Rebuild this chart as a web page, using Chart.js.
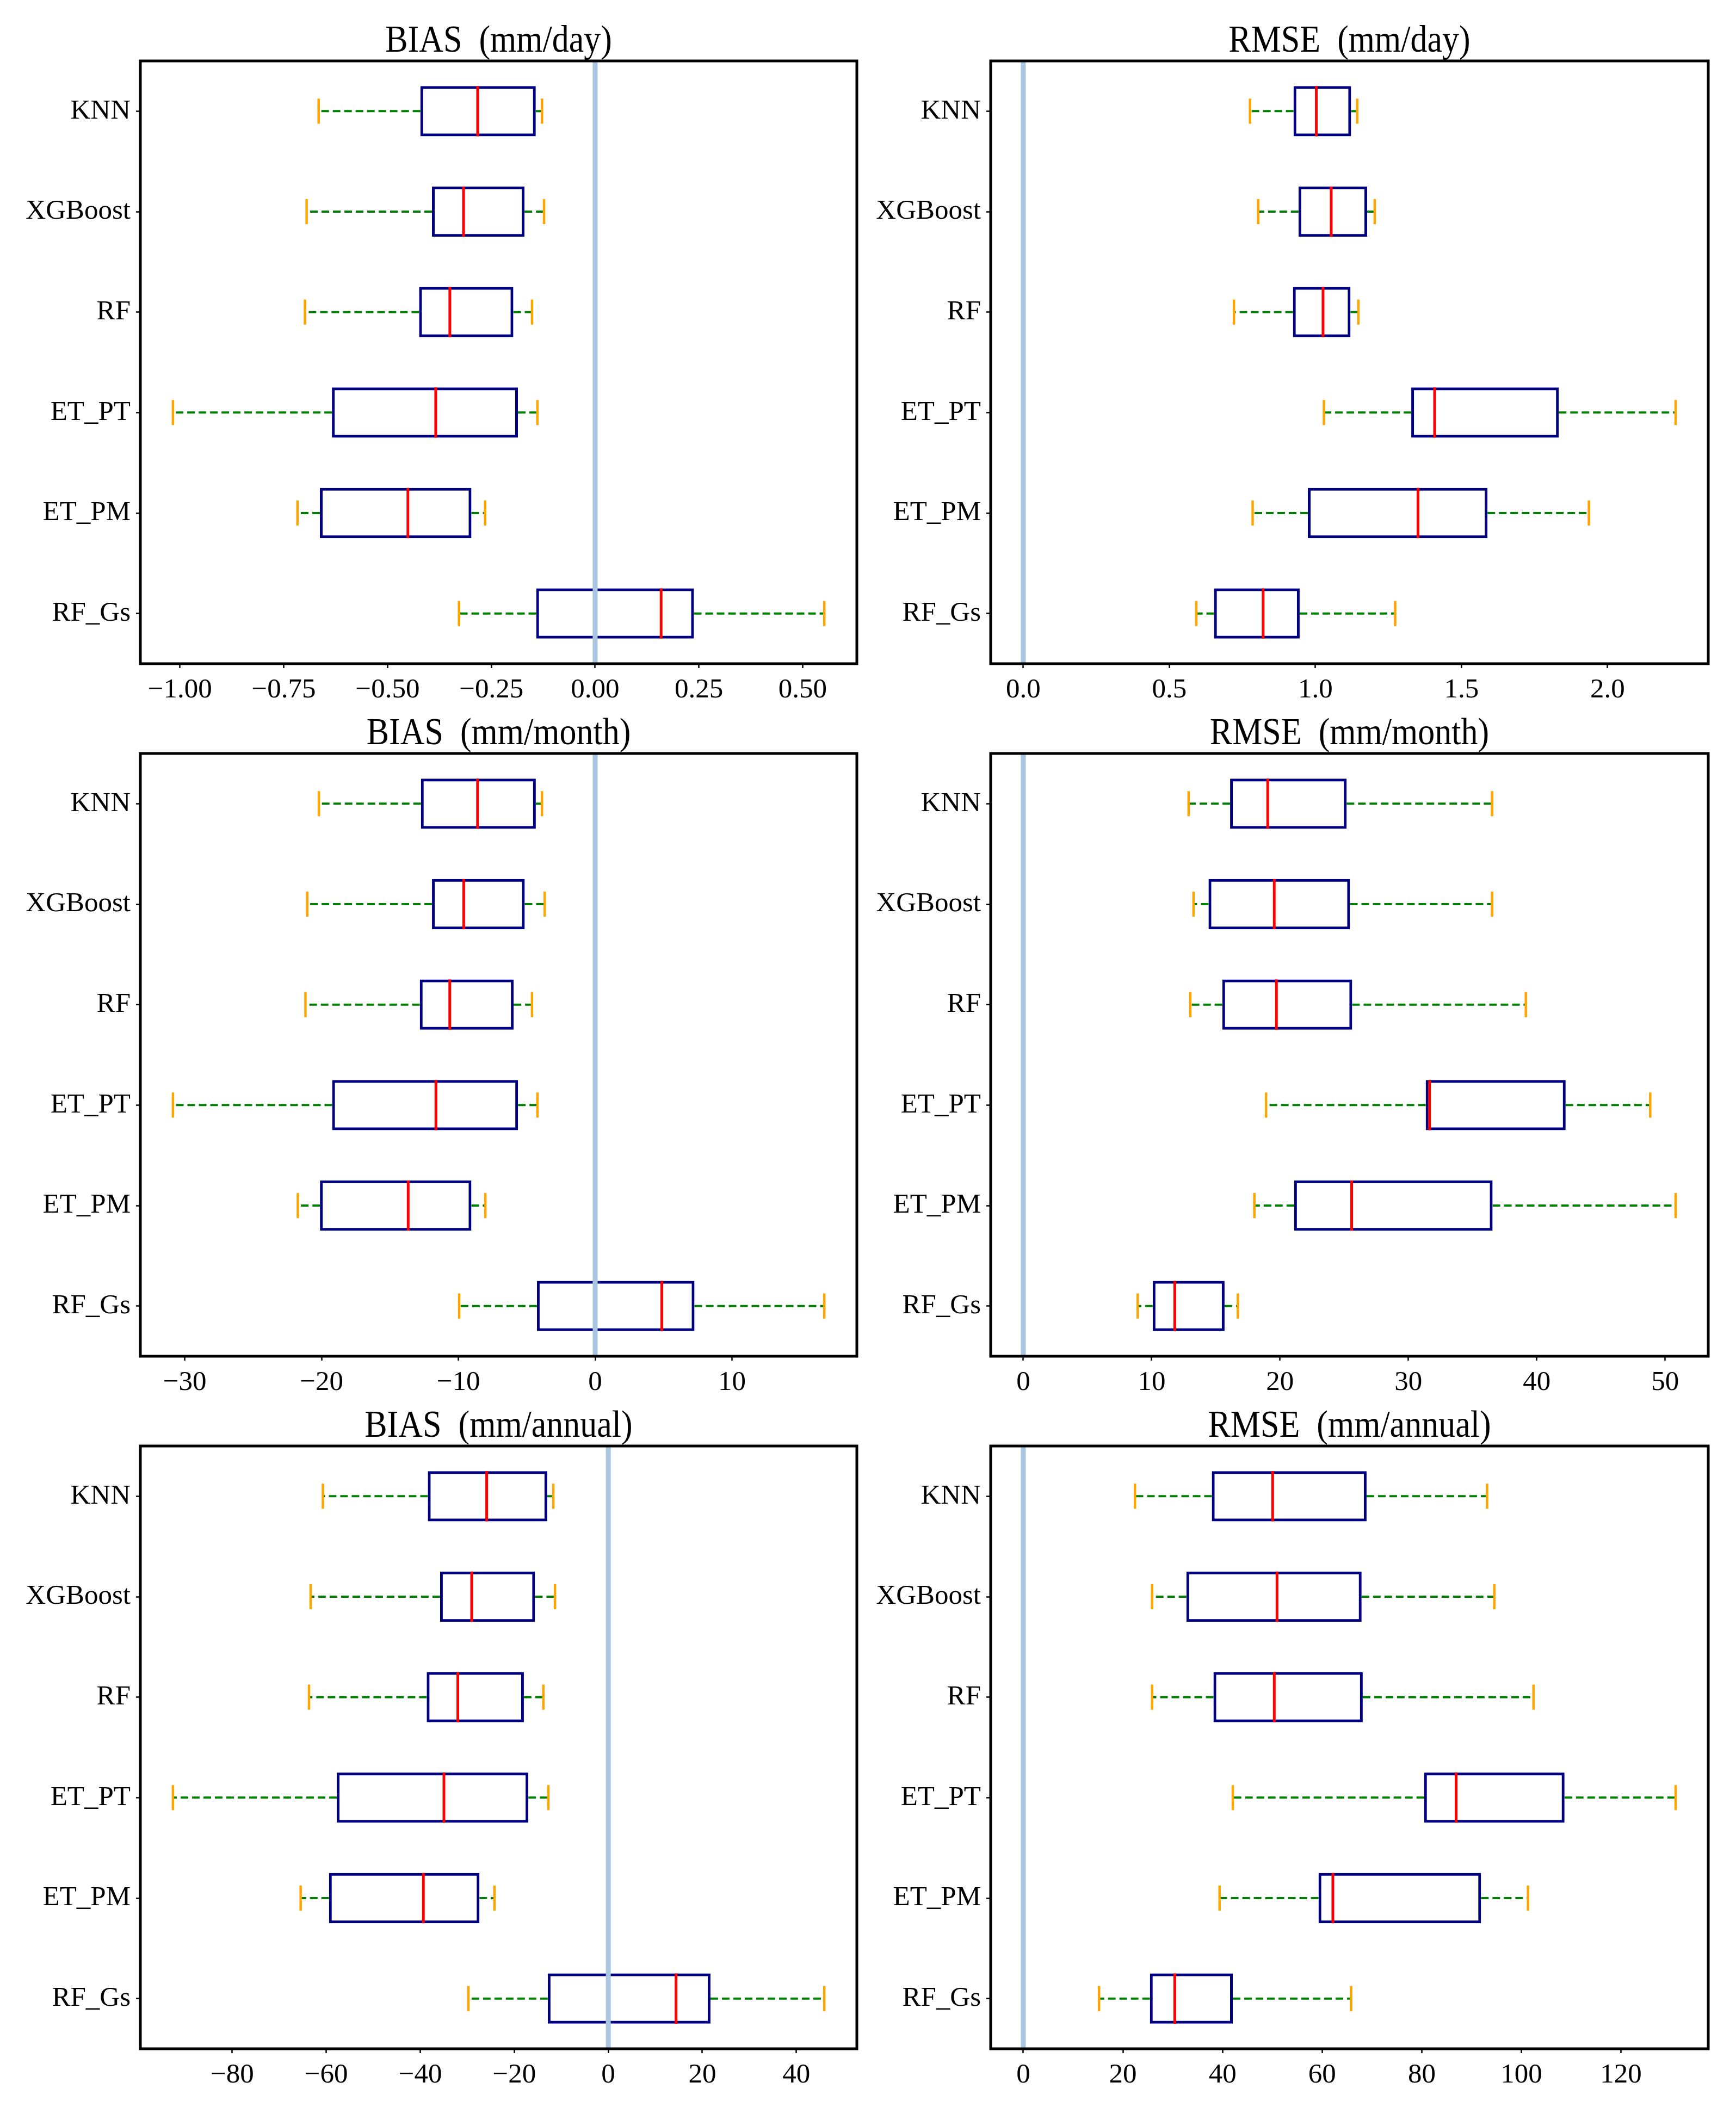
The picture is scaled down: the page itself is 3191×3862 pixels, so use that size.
<!DOCTYPE html>
<html lang="en">
<head>
<meta charset="UTF-8">
<title>BIAS and RMSE box plots</title>
<script src="https://cdn.jsdelivr.net/npm/chart.js"></script>
<style>
  html, body { margin: 0; padding: 0; background: #fff; }
  #wrap { position: relative; width: 3191px; height: 3862px; overflow: hidden; background: #fff; }
  canvas { position: absolute; }
</style>
</head>
<body>
<div id="wrap">
  <canvas id="c1" width="1600" height="1316" style="left:0px;top:0px"></canvas>
  <canvas id="c2" width="1628" height="1316" style="left:1563px;top:0px"></canvas>
  <canvas id="c3" width="1600" height="1316" style="left:0px;top:1273px"></canvas>
  <canvas id="c4" width="1628" height="1316" style="left:1563px;top:1273px"></canvas>
  <canvas id="c5" width="1600" height="1316" style="left:0px;top:2546px"></canvas>
  <canvas id="c6" width="1628" height="1316" style="left:1563px;top:2546px"></canvas>
</div>

<script>
const categories = ['KNN', 'XGBoost', 'RF', 'ET_PT', 'ET_PM', 'RF_Gs'];

// BIAS (mm/day)
const biasDayLow  = [-0.666, -0.695, -0.699, -1.017, -0.717, -0.328];
const biasDayQ1   = [-0.421, -0.393, -0.424, -0.634, -0.663, -0.142];
const biasDayMed  = [-0.283, -0.317, -0.350, -0.384, -0.451,  0.159];
const biasDayQ3   = [-0.143, -0.170, -0.197, -0.186, -0.298,  0.238];
const biasDayHigh = [-0.128, -0.123, -0.152, -0.139, -0.265,  0.552];
const biasDayTicks = [-1, -0.75, -0.5, -0.25, 0, 0.25, 0.5];

// RMSE (mm/day)
const rmseDayLow  = [0.776, 0.804, 0.721, 1.029, 0.785, 0.592];
const rmseDayQ1   = [0.925, 0.942, 0.923, 1.328, 0.974, 0.653];
const rmseDayMed  = [1.003, 1.054, 1.026, 1.408, 1.351, 0.821];
const rmseDayQ3   = [1.122, 1.177, 1.120, 1.833, 1.589, 0.946];
const rmseDayHigh = [1.143, 1.203, 1.147, 2.233, 1.936, 1.273];
const rmseDayTicks = [0, 0.5, 1, 1.5, 2];

// BIAS (mm/month)
const biasMonLow  = [-20.20, -21.05, -21.18, -30.87, -21.74, -9.94];
const biasMonQ1   = [-12.74, -11.93, -12.82, -19.23, -20.12, -4.26];
const biasMonMed  = [-8.60, -9.61, -10.63, -11.64, -13.67, 4.87];
const biasMonQ3   = [-4.34, -5.15, -5.96, -5.64, -9.05, 7.26];
const biasMonHigh = [-3.89, -3.69, -4.62, -4.22, -8.03, 16.75];
const biasMonTicks = [-30, -20, -10, 0, 10];

// RMSE (mm/month)
const rmseMonLow  = [12.88, 13.26, 13.01, 18.91, 18.00, 8.91];
const rmseMonQ1   = [16.11, 14.43, 15.50, 31.35, 21.10, 10.08];
const rmseMonMed  = [19.04, 19.55, 19.72, 31.65, 25.58, 11.80];
const rmseMonQ3   = [25.19, 25.45, 25.62, 42.25, 36.56, 15.68];
const rmseMonHigh = [36.52, 36.52, 39.15, 48.84, 50.82, 16.71];
const rmseMonTicks = [0, 10, 20, 30, 40, 50];

// BIAS (mm/annual)
const biasYrLow  = [-60.72, -63.32, -63.67, -92.62, -65.45, -29.77];
const biasYrQ1   = [-38.39, -35.79, -38.63, -57.77, -59.42, -12.88];
const biasYrMed  = [-25.87, -29.06, -32.01, -34.97, -39.34, 14.41];
const biasYrQ3   = [-12.99, -15.59, -17.96, -17.01, -27.41, 21.74];
const biasYrHigh = [-11.70, -11.34, -13.82, -12.76, -24.22, 45.95];
const biasYrTicks = [-80, -60, -40, -20, 0, 20, 40];

// RMSE (mm/annual)
const rmseYrLow  = [22.42, 25.86, 25.86, 42.06, 39.40, 15.21];
const rmseYrQ1   = [37.85, 32.74, 38.18, 80.47, 59.27, 25.42];
const rmseYrMed  = [50.06, 50.94, 50.39, 86.90, 62.15, 30.41];
const rmseYrQ3   = [68.92, 67.92, 68.15, 108.66, 91.90, 42.06];
const rmseYrHigh = [93.12, 94.56, 102.44, 130.97, 101.33, 65.82];
const rmseYrTicks = [0, 20, 40, 60, 80, 100, 120];

const panels = [
  { id: 'c1', title: 'BIAS  (mm/day)',    low: biasDayLow, q1: biasDayQ1, med: biasDayMed, q3: biasDayQ3, high: biasDayHigh, ticks: biasDayTicks, dec: 2, padRight: 25 },
  { id: 'c2', title: 'RMSE  (mm/day)',    low: rmseDayLow, q1: rmseDayQ1, med: rmseDayMed, q3: rmseDayQ3, high: rmseDayHigh, ticks: rmseDayTicks, dec: 1, padRight: 51 },
  { id: 'c3', title: 'BIAS  (mm/month)',  low: biasMonLow, q1: biasMonQ1, med: biasMonMed, q3: biasMonQ3, high: biasMonHigh, ticks: biasMonTicks, dec: 0, padRight: 25 },
  { id: 'c4', title: 'RMSE  (mm/month)',  low: rmseMonLow, q1: rmseMonQ1, med: rmseMonMed, q3: rmseMonQ3, high: rmseMonHigh, ticks: rmseMonTicks, dec: 0, padRight: 51 },
  { id: 'c5', title: 'BIAS  (mm/annual)', low: biasYrLow,  q1: biasYrQ1,  med: biasYrMed,  q3: biasYrQ3,  high: biasYrHigh,  ticks: biasYrTicks,  dec: 0, padRight: 25 },
  { id: 'c6', title: 'RMSE  (mm/annual)', low: rmseYrLow,  q1: rmseYrQ1,  med: rmseYrMed,  q3: rmseYrQ3,  high: rmseYrHigh,  ticks: rmseYrTicks,  dec: 0, padRight: 51 }
];

const FONT = '"Liberation Serif", "Times New Roman", serif';
Chart.defaults.color = '#000';
Chart.defaults.font.family = FONT;

// whiskers, caps, medians, zero line, frame and title
function boxParts(p) {
  return {
    id: 'boxParts',
    afterDatasetsDraw(chart) {
      const { ctx, chartArea: a, scales: { x, y } } = chart;
      const step = y.getPixelForValue(1) - y.getPixelForValue(0);
      const seg = (x1, y1, x2, y2) => {
        ctx.beginPath(); ctx.moveTo(x1, y1); ctx.lineTo(x2, y2); ctx.stroke();
      };
      ctx.save();
      p.low.forEach((lo, i) => {
        const cy = y.getPixelForValue(i);
        const xl = x.getPixelForValue(lo), xh = x.getPixelForValue(p.high[i]);
        ctx.strokeStyle = '#008000';
        ctx.lineWidth = 4;
        ctx.setLineDash([14, 7]);
        seg(x.getPixelForValue(p.q1[i]), cy, xl, cy);
        seg(x.getPixelForValue(p.q3[i]), cy, xh, cy);
        ctx.setLineDash([]);
        ctx.strokeStyle = '#FFA500';
        ctx.lineWidth = 4.5;
        seg(xl, cy - step * 0.125, xl, cy + step * 0.125);
        seg(xh, cy - step * 0.125, xh, cy + step * 0.125);
        ctx.strokeStyle = '#FF0000';
        ctx.lineWidth = 5;
        const xm = x.getPixelForValue(p.med[i]);
        seg(xm, cy - step * 0.25, xm, cy + step * 0.25);
      });
      const x0 = x.getPixelForValue(0);
      ctx.strokeStyle = '#a9c6e0';
      ctx.lineWidth = 9;
      seg(x0, a.top, x0, a.bottom);
      ctx.strokeStyle = '#000';
      ctx.lineWidth = 5;
      ctx.strokeRect(a.left, a.top, a.right - a.left, a.bottom - a.top);

      // title centred over the plot area, slightly stretched like the original
      ctx.fillStyle = '#000';
      ctx.font = '62px ' + FONT;
      ctx.textAlign = 'center';
      ctx.textBaseline = 'alphabetic';
      ctx.translate((a.left + a.right) / 2, a.top - 17);
      ctx.scale(1, 1.12);
      ctx.fillText(p.title, 0, 0);
      ctx.restore();
    }
  };
}

panels.forEach(p => {
  const lo = Math.min(0, ...p.low), hi = Math.max(0, ...p.high);
  const pad = (hi - lo) * 0.05;
  new Chart(document.getElementById(p.id), {
    type: 'bar',
    data: {
      labels: categories,
      datasets: [{
        data: p.q1.map((v, i) => [v, p.q3[i]]),
        backgroundColor: 'rgba(0,0,0,0)',
        borderColor: '#000080',
        borderWidth: 5,
        borderSkipped: false,
        barPercentage: 0.5,
        categoryPercentage: 1
      }]
    },
    options: {
      indexAxis: 'y',
      responsive: false,
      devicePixelRatio: 1,
      animation: false,
      layout: { padding: { top: 112, right: p.padRight, bottom: 0, left: 0 } },
      plugins: {
        legend: { display: false },
        tooltip: { enabled: false },
        title: { display: false }
      },
      scales: {
        x: {
          type: 'linear',
          min: lo - pad,
          max: hi + pad,
          afterBuildTicks: s => { s.ticks = p.ticks.map(v => ({ value: v })); },
          afterFit: s => { s.height = 96; },
          border: { display: false },
          grid: { drawOnChartArea: false, drawTicks: true, tickLength: 8, tickWidth: 2.5, tickColor: '#000' },
          ticks: {
            autoSkip: false,
            maxRotation: 0,
            padding: 10,
            color: '#000',
            font: { family: FONT, size: 51 },
            callback: v => v.toFixed(p.dec).replace('-', '\u2212')
          }
        },
        y: {
          type: 'category',
          offset: true,
          afterFit: s => { s.width = 258; },
          border: { display: false },
          grid: { offset: false, drawOnChartArea: false, drawTicks: true, tickLength: 8, tickWidth: 2.5, tickColor: '#000' },
          ticks: {
            padding: 10,
            color: '#000',
            font: { family: FONT, size: 51 }
          }
        }
      }
    },
    plugins: [boxParts(p)]
  });
});
</script>
</body>
</html>
